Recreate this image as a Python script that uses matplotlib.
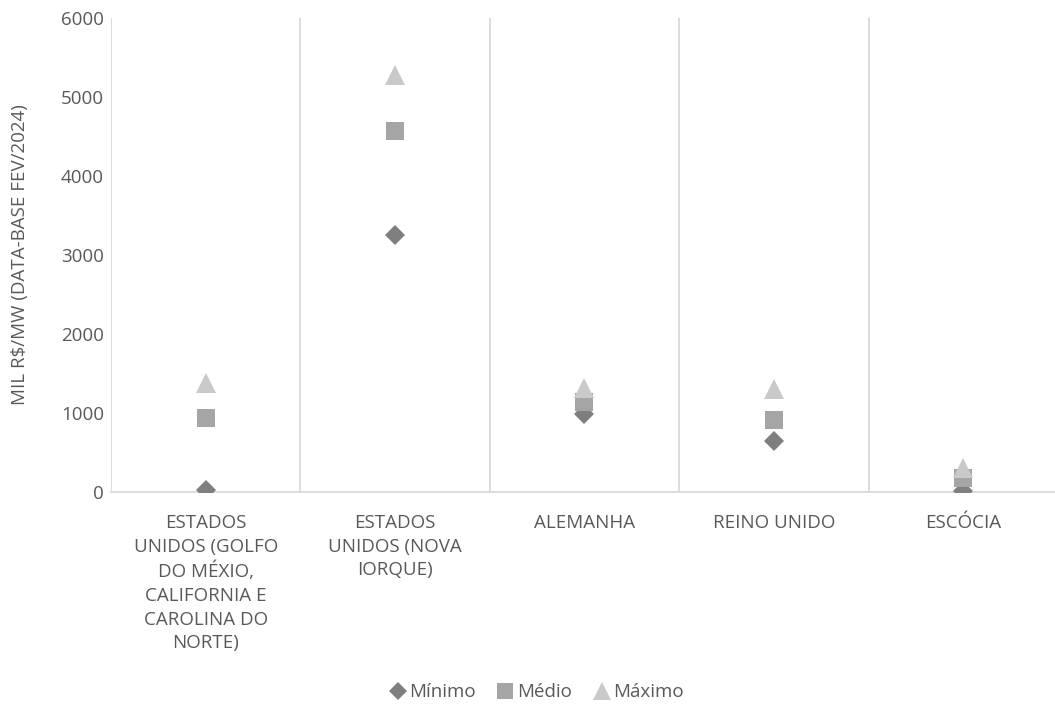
import matplotlib.pyplot as plt
import numpy as np

plt.rcParams['font.family'] = ['Open Sans', 'DejaVu Sans']

categorias = [
    "ESTADOS\nUNIDOS (GOLFO\nDO MÉXIO,\nCALIFORNIA E\nCAROLINA DO\nNORTE)",
    "ESTADOS\nUNIDOS (NOVA\nIORQUE)",
    "ALEMANHA",
    "REINO UNIDO",
    "ESCÓCIA",
]
minimo = [20, 3250, 980, 650, 15]
medio = [940, 4570, 1140, 910, 180]
maximo = [1380, 5280, 1320, 1300, 300]

texto = "#595959"
grade = "#d9d9d9"

fig = plt.figure(figsize=(10.55, 7.15), dpi=100)
ax = fig.add_axes([0.1052, 0.312, 0.8976, 0.663])

x = np.arange(len(categorias))
ax.plot(x, minimo, "D", color="#7f7f7f", ms=10, mew=0, label="Mínimo", zorder=3)
ax.plot(x, medio, "s", color="#a5a5a5", ms=13.5, mew=0, label="Médio", zorder=3)
ax.plot(x, maximo, "^", color="#c9c9c9", ms=14, mew=0, label="Máximo", zorder=3)

ax.set_xlim(-0.5, len(categorias) - 0.5)
ax.set_ylim(0, 6000)
ax.set_yticks(range(0, 6001, 1000))
ax.set_xticks(x)
ax.set_xticklabels(categorias, linespacing=1.4, fontsize=13, color=texto)
for k in range(len(categorias)):
    ax.axvline(k - 0.5, color=grade, lw=1.3, zorder=1)

for s in ["top", "right", "left"]:
    ax.spines[s].set_visible(False)
ax.spines["bottom"].set_color(grade)
ax.spines["bottom"].set_linewidth(1.3)
ax.tick_params(length=0, labelsize=13.5, colors=texto)
ax.tick_params(axis="x", pad=16)
ax.tick_params(axis="y", pad=5)
for lab in ax.get_xticklabels():
    lab.set_verticalalignment("top")

ax.set_ylabel("MIL R$/MW (DATA-BASE FEV/2024)", fontsize=13.5, color=texto)
ax.yaxis.set_label_coords(-0.087, 0.5)

fig.legend(loc="center", bbox_to_anchor=(0.507, 0.032), ncol=3, frameon=False,
           fontsize=13.5, labelcolor=texto, handletextpad=0.0, columnspacing=1.0,
           markerscale=0.9, handlelength=1.2)

fig.savefig("out.png", dpi=100)
